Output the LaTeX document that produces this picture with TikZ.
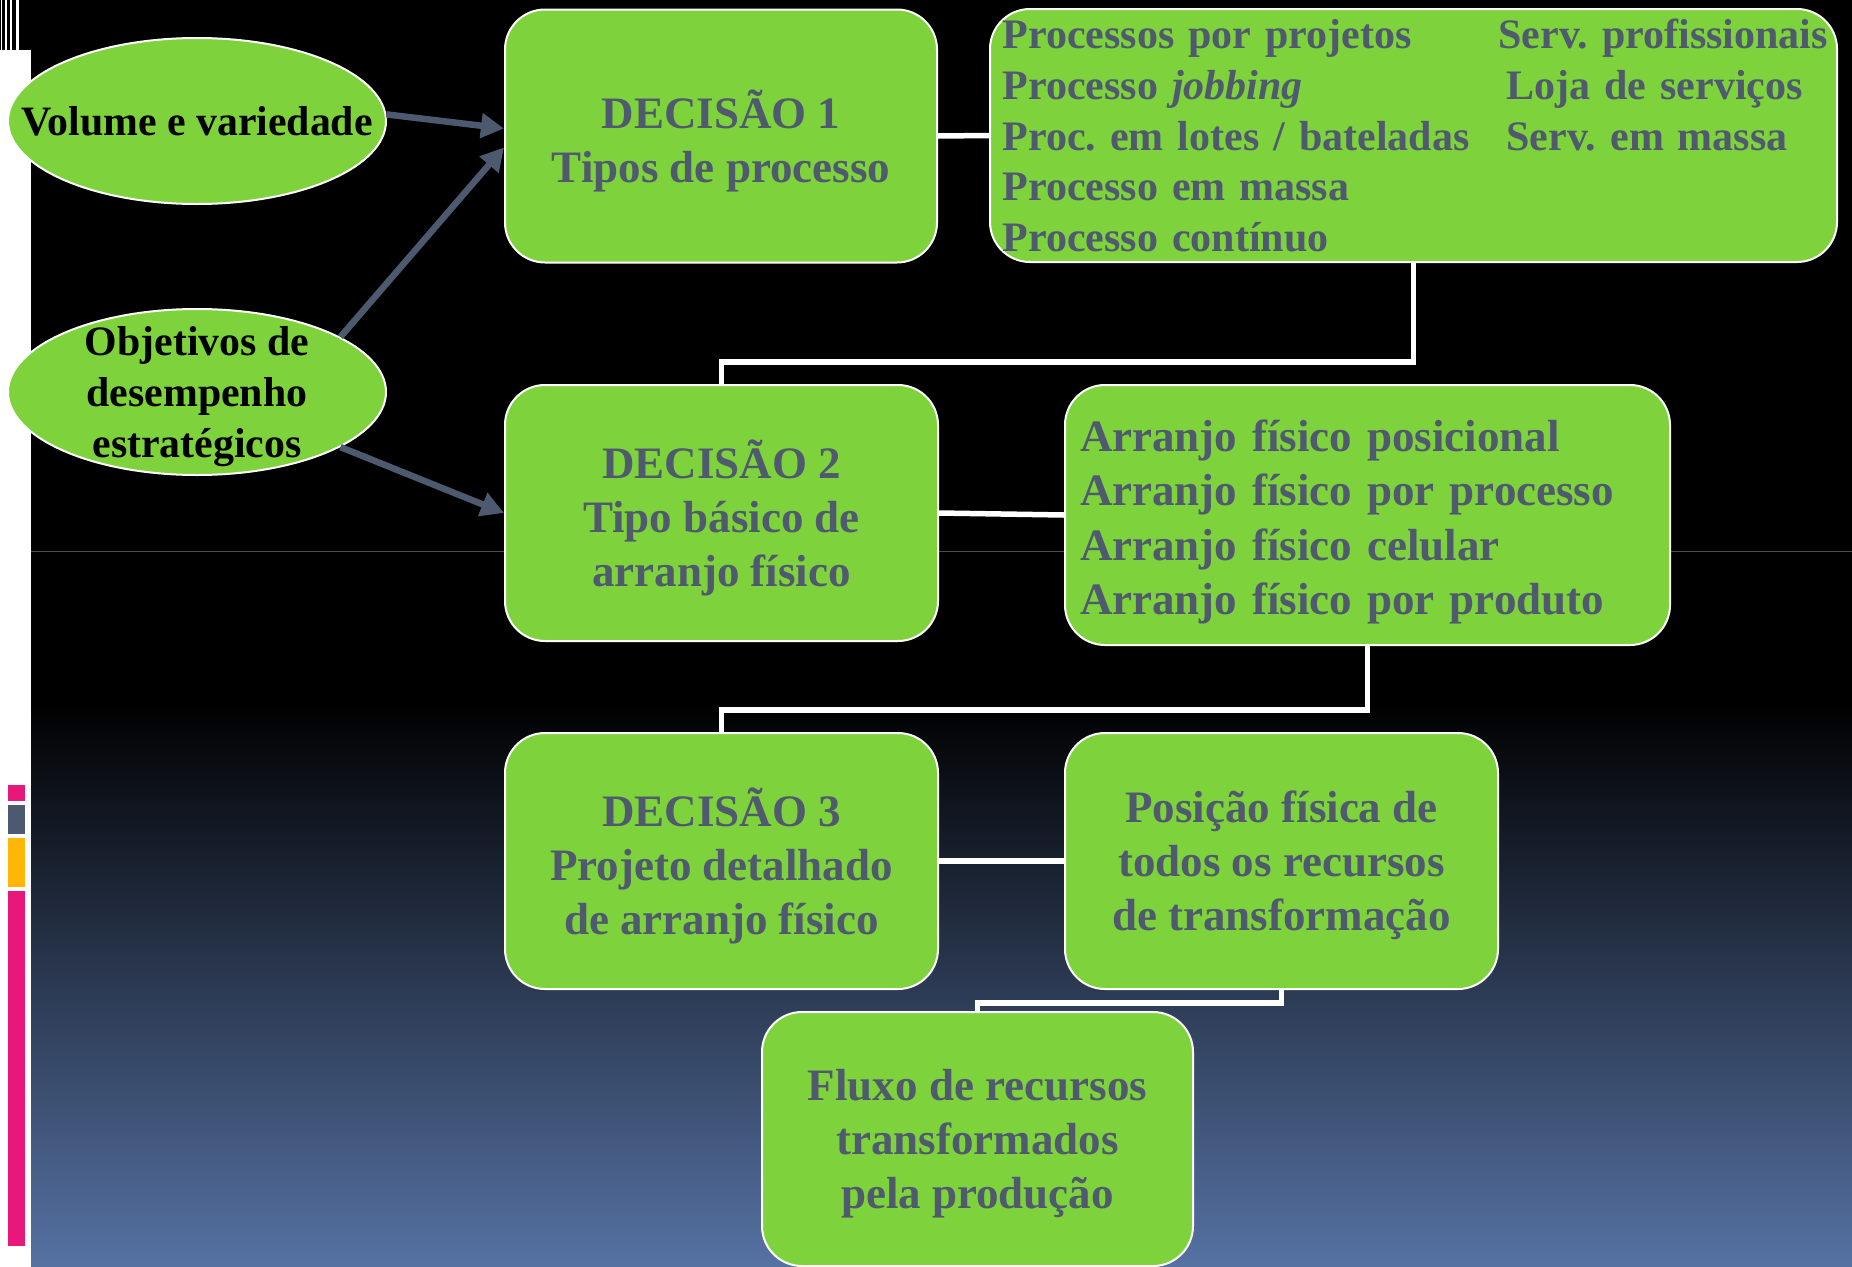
\documentclass[tikz,border=0pt]{standalone}
\usepackage{fontspec}
\setmainfont{Liberation Serif}
\usetikzlibrary{shapes.geometric}
\usetikzlibrary{arrows.meta}
\frenchspacing

\definecolor{verde}{RGB}{126,210,59}
\definecolor{cinza}{RGB}{80,90,110}
\definecolor{ardosia}{RGB}{77,89,110}
\definecolor{fundo}{RGB}{86,114,163}
\definecolor{rosa}{RGB}{232,23,122}
\definecolor{ambar}{RGB}{255,182,7}

\newcommand{\linha}[3][0mm]{\makebox[49.6mm][l]{#2}\makebox[32.6mm][l]{\hspace{#1}#3}}

\begin{document}
\begin{tikzpicture}[x=0.1mm,y=-0.1mm,
    box/.style={rectangle, rounded corners=4mm, fill=verde, draw=white, line width=0.2mm,
        text=cinza, inner sep=0pt, align=center, text depth=0pt,
        font=\fontsize{12.8}{15.4}\selectfont\bfseries},
    oval/.style={ellipse, fill=verde, draw=white, line width=0.2mm,
        inner xsep=-5mm, inner ysep=-1.5mm, minimum width=37.8mm, minimum height=16.6mm,
        align=center, text depth=0pt, font=\fontsize{11.9}{14.6}\selectfont\bfseries},
    link/.style={draw=white, line width=0.55mm},
    feed/.style={draw=ardosia, line width=0.65mm, -{Triangle[length=2.3mm,width=2.4mm]}}]
    \useasboundingbox (0,0) rectangle (1852,1266);

    % fundo do slide
    \fill[white] (0,0) rectangle (1852,1266);
    \fill[black] (31,0) rectangle (1852,700);
    \shade[top color=black, bottom color=fundo] (31,700) rectangle (1852,1266);
    \draw[line width=0.1mm, color=black!70] (31,551) -- (1852,551);

    % barras laterais
    \fill[black] (0,0) rectangle (31,50);
    \foreach \x/\w in {1/1.5, 5/1.5, 10/2, 16/2.5}
        \fill[white] (\x,0) rectangle (\x+\w,50);
    \fill[rosa] (8,785) rectangle (25,801);
    \fill[ardosia] (8,805) rectangle (25,834);
    \fill[ambar] (8,838) rectangle (25,887);
    \fill[rosa] (8,891) rectangle (25,1246);

    % entradas
    \node[oval] (vol) at (197,121) {Volume e variedade};
    \node[oval] (obj) at (197,392) {Objetivos de\\desempenho\\estratégicos};

    % decisoes
    \node[box, minimum width=43.2mm, minimum height=25.3mm] (d1) at (721,136)
        {DECISÃO 1\\Tipos de processo};
    \node[box, minimum width=84.7mm, minimum height=25.3mm, text width=82.2mm,
        inner xsep=1.25mm, align=left, text depth=,
        font=\fontsize{11.95}{14.5}\selectfont\bfseries]
        (proc) at (1413.5,135.5)
        {\linha{Processos por projetos}{Serv. profissionais}\\
         \linha[0.8mm]{Processo \textit{jobbing}}{Loja de serviços}\\
         \linha[0.8mm]{Proc. em lotes / bateladas}{Serv. em massa}\\
         Processo em massa\\
         Processo contínuo};
    \node[box, minimum width=43.3mm, minimum height=25.6mm] (d2) at (721.5,513)
        {DECISÃO 2\\Tipo básico de\\arranjo físico};
    \node[box, minimum width=60.5mm, minimum height=26mm, text width=57.5mm,
        inner xsep=1.5mm, align=left, text depth=15.8mm] (arr) at (1367.5,515)
        {Arranjo físico posicional\\Arranjo físico por processo\\
         Arranjo físico celular\\Arranjo físico por produto};
    \node[box, minimum width=43.3mm, minimum height=25.6mm] (d3) at (721.5,861)
        {DECISÃO 3\\Projeto detalhado\\de arranjo físico};
    \node[box, minimum width=43.3mm, minimum height=25.6mm] (pos) at (1281.5,861)
        {Posição física de\\todos os recursos\\de transformação};
    \node[box, minimum width=43.1mm, minimum height=25.4mm] (flux) at (977.5,1139)
        {Fluxo de recursos\\transformados\\pela produção};

    % setas
    \draw[feed] (vol.2) -- (d1.178);
    \draw[feed] (obj.21) -- (d1.183);
    \draw[feed] (obj.-21) -- (d2.west);

    % ligacoes
    \draw[link] (d1.east) -- (proc.west);
    \draw[link] (proc.south) -- ++(0,99) -| (d2.north);
    \draw[link] (d2.east) -- (arr.west);
    \draw[link] (arr.south) -- ++(0,64) -| (d3.north);
    \draw[link] (d3.east) -- (pos.west);
    \draw[link] (pos.south) -- ++(0,13) -| (flux.north);
\end{tikzpicture}
\end{document}
